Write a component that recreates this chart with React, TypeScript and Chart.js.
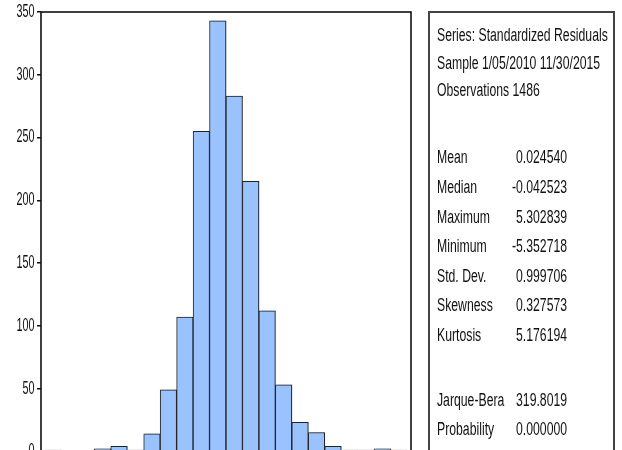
import React, { useEffect, useRef } from "react";
import { Chart, registerables } from "chart.js";

Chart.register(...registerables);

// Histogram bins (centers of 0.5-wide bins) and counts
const binCenters = [
  -5.25, -4.75, -4.25, -3.75, -3.25, -2.75, -2.25, -1.75, -1.25, -0.75, -0.25,
  0.25, 0.75, 1.25, 1.75, 2.25, 2.75, 3.25, 3.75, 4.25, 4.75, 5.25,
];
const counts = [
  1, 0, 0, 2, 4, 1, 14, 49, 107, 255, 343, 283, 215, 112, 53, 23, 15, 4, 1, 1, 2, 1,
];
const yTickStep = 50;
const yMax = 350;

const headerLines = [
  "Series: Standardized Residuals",
  "Sample 1/05/2010 11/30/2015",
  "Observations 1486",
];
const statLabels = [
  "Mean",
  "Median",
  "Maximum",
  "Minimum",
  "Std. Dev.",
  "Skewness",
  "Kurtosis",
];
const statValues = [
  "0.024540",
  "-0.042523",
  "5.302839",
  "-5.352718",
  "0.999706",
  "0.327573",
  "5.176194",
];
const testLabels = ["Jarque-Bera", "Probability"];
const testValues = ["319.8019", "0.000000"];

const headerY = [35, 62.5, 89.5];
const statY = [157, 187, 216.5, 246, 275.5, 305, 335];
const testY = [400, 429];

const FONT = '"Liberation Sans", Arial, Helvetica, sans-serif';

const framePlugin = {
  id: "frameAndLabels",
  beforeDatasetsDraw(chart: any) {
    const ctx = chart.ctx;
    ctx.save();
    ctx.shadowColor = "rgba(0,0,0,0.3)";
    ctx.shadowOffsetX = 2;
    ctx.shadowOffsetY = 0;
    ctx.shadowBlur = 0;
  },
  afterDatasetsDraw(chart: any) {
    chart.ctx.restore();
  },
  afterDraw(chart: any) {
    const ctx = chart.ctx;
    const area = chart.chartArea;
    const ys = chart.scales.y;
    ctx.save();
    ctx.strokeStyle = "#111";
    ctx.lineWidth = 1.6;
    ctx.strokeRect(area.left, area.top, area.right - area.left, area.bottom - area.top);
    ctx.font = "18px " + FONT;
    ctx.fillStyle = "#111";
    ctx.textAlign = "right";
    ctx.textBaseline = "middle";
    ys.ticks.forEach((t: any) => {
      const py = ys.getPixelForValue(t.value);
      ctx.save();
      ctx.translate(area.left - 6.5, py);
      ctx.scale(0.6, 1);
      ctx.fillText(String(t.label), 0, 0);
      ctx.restore();
    });
    ctx.restore();
  },
};

function StatLine(props: { label: string; value?: string; y: number }) {
  const common: React.CSSProperties = {
    position: "absolute",
    top: props.y - 10,
    height: 20,
    lineHeight: "20px",
    fontSize: 18,
    fontFamily: FONT,
    color: "#111",
    whiteSpace: "nowrap",
  };
  return (
    <>
      <div style={{ ...common, left: 437, transform: "scaleX(0.68)", transformOrigin: "left center" }}>
        {props.label}
      </div>
      {props.value !== undefined && (
        <div
          style={{
            ...common,
            right: 622 - 567,
            transform: "scaleX(0.68)",
            transformOrigin: "right center",
          }}
        >
          {props.value}
        </div>
      )}
    </>
  );
}

export default function App() {
  const canvasRef = useRef<HTMLCanvasElement | null>(null);

  useEffect(() => {
    if (!canvasRef.current) return;
    const chart = new Chart(canvasRef.current, {
      type: "bar",
      data: {
        datasets: [
          {
            data: binCenters.map((x, i) => ({ x, y: counts[i] })),
            backgroundColor: "#99c2ff",
            borderColor: "#222",
            borderWidth: 1,
            barThickness: "flex",
            barPercentage: 1,
            categoryPercentage: 1,
          },
        ],
      },
      options: {
        responsive: false,
        animation: false,
        events: [],
        layout: { padding: { left: 0, right: 211, top: 12, bottom: 470 - 451.3 } },
        plugins: { legend: { display: false }, tooltip: { enabled: false } },
        scales: {
          x: {
            type: "linear",
            min: -5.62,
            max: 5.62,
            offset: false,
            display: false,
          },
          y: {
            min: 0,
            max: yMax,
            ticks: { stepSize: yTickStep, display: false },
            grid: {
              display: true,
              drawOnChartArea: false,
              drawTicks: true,
              tickLength: 4,
              color: "#111",
              lineWidth: 1.5,
            },
            border: { display: false },
            afterFit: (scale: any) => {
              scale.width = 41;
            },
          },
        },
      },
      plugins: [framePlugin],
    } as any);
    return () => chart.destroy();
  }, []);

  return (
    <div
      style={{
        position: "fixed",
        left: 0,
        top: 0,
        width: 622,
        height: 450,
        overflow: "hidden",
        background: "#fff",
      }}
    >
      <canvas ref={canvasRef} width={622} height={470} style={{ position: "absolute", left: 0, top: 0 }} />
      <div
        style={{
          position: "absolute",
          left: 428,
          top: 11,
          width: 183,
          height: 480,
          border: "2px solid #444",
        }}
      />
      {headerLines.map((t, i) => (
        <StatLine key={"h" + i} label={t} y={headerY[i]} />
      ))}
      {statLabels.map((t, i) => (
        <StatLine key={"s" + i} label={t} value={statValues[i]} y={statY[i]} />
      ))}
      {testLabels.map((t, i) => (
        <StatLine key={"t" + i} label={t} value={testValues[i]} y={testY[i]} />
      ))}
    </div>
  );
}
